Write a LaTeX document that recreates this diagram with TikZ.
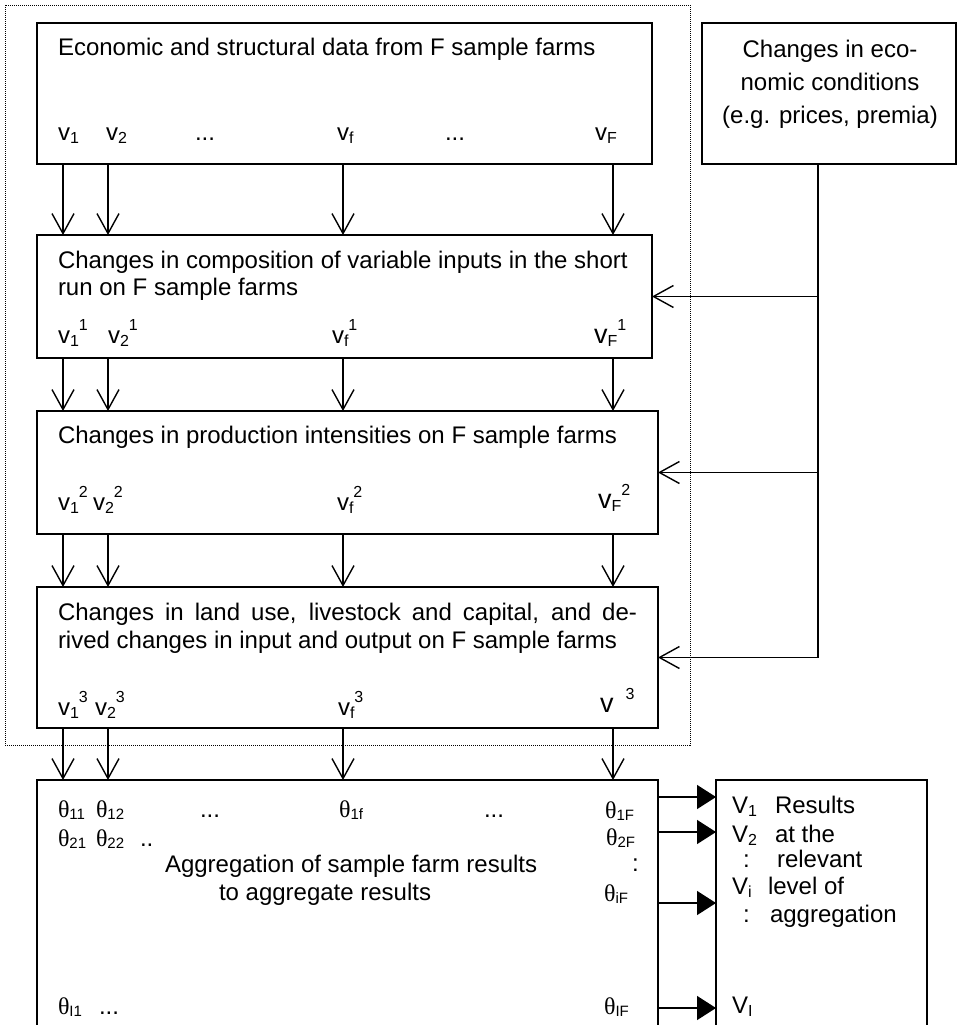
\documentclass[tikz,border=0pt]{standalone}
\usepackage{fontspec}
\setmainfont{Liberation Sans}
\newfontfamily\serifth{Liberation Serif}
\usetikzlibrary{arrows.meta}
\newcommand\lo[1]{\raisebox{-3pt}{\fontsize{16}{16}\selectfont #1}}
\newcommand\hi[1]{\raisebox{13pt}{\fontsize{16}{16}\selectfont #1}}
\newcommand\thl[1]{{\serifth θ}\raisebox{-2pt}{\fontsize{15}{15}\selectfont #1}}
\newcommand\bigv{{\fontsize{27}{27}\selectfont v}}
\begin{document}
\begin{tikzpicture}[x=1pt,y=-1pt,
  box/.style={draw, line width=1.6pt, inner sep=0pt, outer sep=0pt},
  grpbox/.style={draw, line width=0.9pt, dash pattern=on 1pt off 1pt, inner sep=0pt, outer sep=0pt},
  lbl/.style={anchor=base west, inner sep=0pt, outer sep=0pt, font=\fontsize{24}{27.6}\selectfont},
  clbl/.style={anchor=base, inner sep=0pt, outer sep=0pt, font=\fontsize{24}{27.6}\selectfont},
  varr/.style={line width=1.4pt, -{Straight Barb[length=20pt,width=22pt]}},
  farr/.style={line width=1.4pt, -{Triangle[length=19pt,width=24pt]}}]
\useasboundingbox (0,0) rectangle (957,1025);
\clip (0,0) rectangle (957,1025);

% boxes
\node[grpbox, minimum width=685pt, minimum height=740pt] (grp) at (347.5,375) {};
\node[box, minimum width=615pt, minimum height=141pt] (b1) at (344.5,93.5) {};
\node[box, minimum width=254pt, minimum height=141pt] (eco) at (829,93.5) {};
\node[box, minimum width=615pt, minimum height=123pt] (b2) at (344.5,296.5) {};
\node[box, minimum width=621pt, minimum height=123pt] (b3) at (347.5,472.5) {};
\node[box, minimum width=621pt, minimum height=141pt] (b4) at (347.5,657.5) {};
\node[box, minimum width=621pt, minimum height=265pt] (b5) at (347.5,912.5) {};
\node[box, minimum width=211pt, minimum height=265pt] (res) at (821.5,912.5) {};

% column coordinates
\coordinate (cA) at (63,0);
\coordinate (cB) at (108,0);
\coordinate (cC) at (343,0);
\coordinate (cD) at (613,0);
\coordinate (bus) at (818,0);
\coordinate (r1) at (0,797);
\coordinate (r2) at (0,832);
\coordinate (r3) at (0,903);
\coordinate (r4) at (0,1008);

% vertical arrows
\foreach \c in {cA,cB,cC,cD}{
  \draw[varr] (b1.south -| \c) -- (b2.north -| \c);
  \draw[varr] (b2.south -| \c) -- (b3.north -| \c);
  \draw[varr] (b3.south -| \c) -- (b4.north -| \c);
  \draw[varr] (b4.south -| \c) -- (b5.north -| \c);
}

% feedback from economic conditions
\draw[varr] (eco.south -| bus) |- (b4.east);
\draw[varr] (bus |- b2.east) -- (b2.east);
\draw[varr] (bus |- b3.east) -- (b3.east);

% result arrows
\foreach \r in {r1,r2,r3,r4}{
  \draw[farr] (b5.east |- \r) -- (res.west |- \r);
}

% box 1
\node[lbl] (t1) at (58,56) {Economic and structural data from F sample farms};
\node[lbl] (v11) at (58,140) {v\lo{1}};
\node[lbl] (v12) at (106,140) {v\lo{2}};
\node[lbl] (d11) at (195,140) {...};
\node[lbl] (v1f) at (337,140) {v\lo{f}};
\node[lbl] (d12) at (445,140) {...};
\node[lbl] (v1F) at (595,140) {v\lo{F}};

% economic conditions
\node[clbl] (e1) at (830,57.7) {Changes in eco-};
\node[clbl] (e2) at (830,90.7) {nomic conditions};
\node[clbl] (e3) at (830,123) {(e.g. prices, premia)};

% box 2
\node[lbl] (t2a) at (58,268) {Changes in composition of variable inputs in the short};
\node[lbl] (t2b) at (58,295) {run on F sample farms};
\node[lbl] (v21) at (58,343) {v\lo{1}\hi{1}};
\node[lbl] (v22) at (108,343) {v\lo{2}\hi{1}};
\node[lbl] (v2f) at (332,343) {v\lo{f}\hi{1}};
\node[lbl] (v2F) at (594,343) {\bigv\lo{F}\hi{1}};

% box 3
\node[lbl] (t3) at (58,443) {Changes in production intensities on F sample farms};
\node[lbl] (v31) at (58,510) {v\lo{1}\hi{2}};
\node[lbl] (v32) at (93,510) {v\lo{2}\hi{2}};
\node[lbl] (v3f) at (337,510) {v\lo{f}\hi{2}};
\node[lbl] (v3F) at (598,508) {\bigv\lo{F}\hi{2}};

% box 4
\node[lbl] (t4a) at (58,620) {\makebox[579pt][s]{Changes in land use, livestock and capital, and de-}};
\node[lbl] (t4b) at (58,648) {rived changes in input and output on F sample farms};
\node[lbl] (v41) at (58,715) {v\lo{1}\hi{3}};
\node[lbl] (v42) at (95,715) {v\lo{2}\hi{3}};
\node[lbl] (v4f) at (338,715) {v\lo{f}\hi{3}};
\node[lbl] (v4F) at (600,712) {\bigv\hspace{12pt}\hi{3}};

% box 5
\node[lbl] (th11) at (58,817) {\thl{11}};
\node[lbl] (th12) at (96,817) {\thl{12}};
\node[lbl] (d51) at (200,817) {...};
\node[lbl] (th1f) at (339,817) {\thl{1f}};
\node[lbl] (d52) at (484,817) {...};
\node[lbl] (th1F) at (605,818) {\thl{1F}};
\node[lbl] (th21) at (58,846) {\thl{21}};
\node[lbl] (th22) at (96,846) {\thl{22}};
\node[lbl] (d53) at (140,846) {..};
\node[lbl] (th2F) at (606,845) {\thl{2F}};
\node[lbl] (c51) at (632,871) {:};
\node[lbl] (thiF) at (604,901) {\thl{iF}};
\node[lbl] (thI1) at (58,1014) {\thl{I1}};
\node[lbl] (d54) at (99,1014) {...};
\node[lbl] (thIF) at (604,1014) {\thl{IF}};
\node[lbl] (ag1) at (165,872) {Aggregation of sample farm results};
\node[lbl] (ag2) at (219,900) {to aggregate results};

% results box
\node[lbl] (V1) at (732,813) {V\lo{1}};
\node[lbl] (R1) at (775,813) {Results};
\node[lbl] (V2) at (732,842) {V\lo{2}};
\node[lbl] (R2) at (775,842) {at the};
\node[lbl] (C1) at (743,867) {:};
\node[lbl] (R3) at (777,867) {relevant};
\node[lbl] (Vi) at (732,894) {V\lo{i}};
\node[lbl] (R4) at (768,894) {level of};
\node[lbl] (C2) at (743,922) {:};
\node[lbl] (R5) at (770,922) {aggregation};
\node[lbl] (VI) at (732,1013) {V\lo{I}};
\end{tikzpicture}
\end{document}
